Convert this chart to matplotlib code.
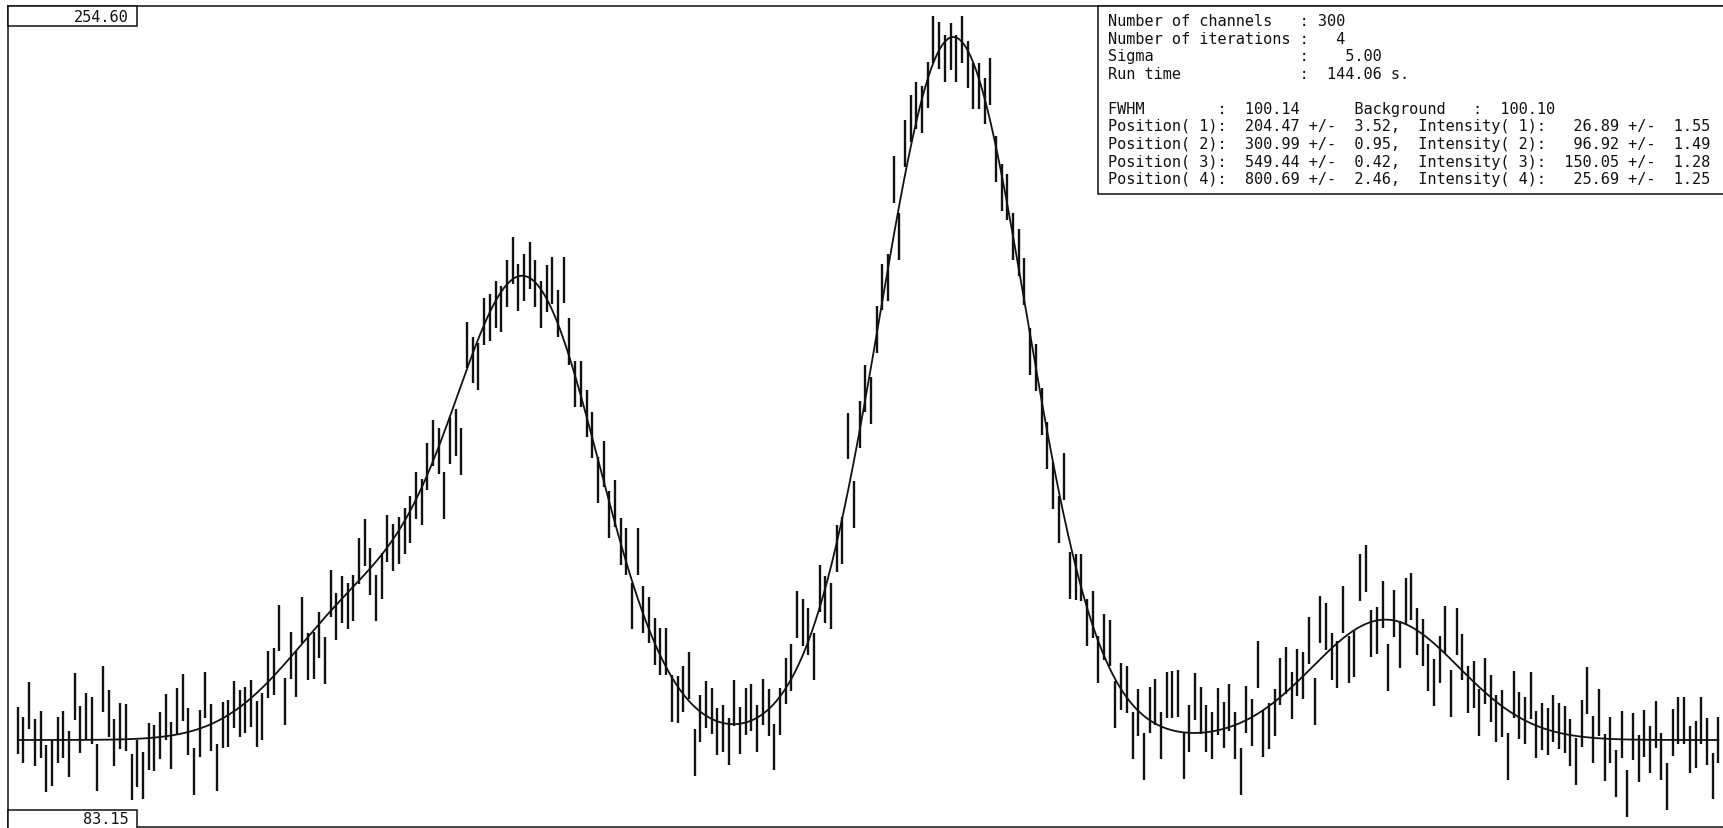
import matplotlib.pyplot as plt
import numpy as np
from matplotlib.patches import Rectangle

# fit results, as reported by the fitting run
n_channels = 300
n_iterations = 4
sigma = 5.00
run_time = 144.06
fwhm = 100.14
background = 100.10
peak_positions = [204.47, 300.99, 549.44, 800.69]
peak_position_errors = [3.52, 0.95, 0.42, 2.46]
peak_intensities = [26.89, 96.92, 150.05, 25.69]
peak_intensity_errors = [1.55, 1.49, 1.28, 1.25]

# measured spectrum, one value per channel
counts = [
    102.1, 100.1, 107.4, 99.5, 101.2, 94.1, 95.2, 100.1, 101.2, 97.1,
    109.3, 102.4, 105.2, 104.2, 94.3, 111.0, 105.7, 99.5, 103.1, 102.7,
    92.2, 95.0, 92.6, 98.8, 98.4, 101.0, 105.0, 99.0, 106.1, 109.1,
    102.0, 93.3, 101.4, 109.7, 102.7, 94.3, 103.3, 103.7, 107.6, 105.7,
    106.5, 107.8, 103.5, 105.2, 114.0, 114.8, 124.0, 108.4, 118.2, 114.2,
    125.7, 118.0, 118.2, 122.5, 117.0, 131.3, 126.4, 130.0, 128.7, 130.4,
    138.3, 142.2, 136.0, 130.4, 135.1, 143.1, 141.1, 142.6, 144.7, 147.1,
    152.2, 150.9, 158.4, 163.5, 161.8, 152.2, 164.1, 165.8, 161.6, 184.4,
    181.2, 179.9, 189.4, 190.2, 193.0, 192.1, 197.6, 202.4, 196.6, 198.9,
    201.3, 197.6, 193.0, 196.4, 198.1, 191.2, 198.3, 185.1, 176.1, 176.1,
    169.7, 165.2, 155.6, 159.0, 148.3, 150.5, 142.4, 140.3, 128.7, 140.3,
    127.9, 125.7, 121.1, 118.9, 118.9, 108.9, 108.7, 111.0, 113.8, 97.4,
    104.7, 107.6, 106.3, 102.0, 102.5, 99.8, 108.0, 102.2, 106.1, 107.0,
    102.5, 108.2, 105.9, 98.6, 106.1, 112.7, 115.5, 126.8, 125.1, 123.2,
    118.0, 132.5, 130.0, 128.7, 140.9, 142.7, 165.0, 150.3, 167.5, 175.2,
    172.5, 187.8, 196.8, 198.9, 219.8, 207.5, 227.5, 232.7, 235.6, 234.6,
    239.9, 249.7, 248.4, 245.5, 248.1, 245.5, 249.6, 244.2, 239.7, 239.7,
    236.5, 240.7, 224.1, 218.1, 216.0, 207.5, 204.1, 197.9, 183.1, 179.6,
    170.2, 162.9, 154.4, 147.1, 156.3, 135.3, 134.9, 134.7, 125.1, 126.8,
    117.2, 122.1, 120.8, 107.7, 111.5, 110.8, 101.0, 105.9, 96.5, 106.5,
    108.2, 101.0, 109.7, 109.9, 110.1, 96.8, 102.5, 109.3, 106.4, 102.5,
    101.0, 106.1, 103.3, 107.1, 101.0, 93.3, 106.7, 103.9, 116.3, 101.4,
    103.1, 105.9, 112.5, 115.0, 109.6, 114.5, 113.8, 121.3, 108.4, 125.8,
    124.4, 118.0, 116.3, 128.0, 117.3, 118.5, 134.8, 136.7, 122.9, 123.4,
    129.0, 115.6, 127.1, 120.4, 129.6, 130.8, 123.2, 121.0, 115.6, 112.3,
    117.3, 123.6, 110.1, 123.3, 117.8, 110.8, 112.0, 106.0, 112.7, 108.9,
    104.6, 105.8, 96.5, 109.8, 105.3, 104.2, 109.6, 101.3, 103.0, 102.0,
    104.7, 103.1, 102.3, 99.5, 95.6, 103.7, 110.6, 100.2, 105.9, 96.3,
    100.1, 92.9, 101.2, 88.6, 100.8, 96.1, 101.4, 98.1, 103.4, 96.6,
    90.1, 101.7, 104.2, 104.2, 98.1, 99.2, 104.2, 99.7, 92.4, 100.1,
]

# channel centres along the energy axis
channel_first, channel_last = 5.5, 994.2

# range labels printed in the corner boxes
y_top_label = "254.60"
y_bottom_label = "83.15"

W, H = 1724, 829
INK = "#111111"
MONO = "DejaVu Sans Mono"


def fitted_spectrum(x: np.ndarray) -> np.ndarray:
    """Background plus one gaussian per peak, all sharing the same FWHM."""
    s = fwhm / (2 * np.sqrt(2 * np.log(2)))
    y = np.full_like(x, background, dtype=float)
    for pos, height in zip(peak_positions, peak_intensities):
        y += height * np.exp(-0.5 * ((x - pos) / s) ** 2)
    return y


def px_box(fig, x0, y0, x1, y1, **kw):
    """Rectangle given in pixel coords measured from the top-left corner."""
    rect = Rectangle((x0 / W, 1 - y1 / H), (x1 - x0) / W, (y1 - y0) / H,
                     transform=fig.transFigure, fill=True, facecolor="white",
                     edgecolor=INK, linewidth=1.1, zorder=5, **kw)
    fig.patches.append(rect)


def summary_lines() -> list:
    lines = [
        f"Number of channels   : {n_channels}",
        f"Number of iterations : {n_iterations:3d}",
        f"Sigma                : {sigma:7.2f}",
        f"Run time             : {run_time:7.2f} s.",
        "",
        f"FWHM        : {fwhm:7.2f}      Background   : {background:7.2f}",
    ]
    for i, (pos, perr, inten, ierr) in enumerate(
            zip(peak_positions, peak_position_errors, peak_intensities, peak_intensity_errors), start=1):
        lines.append(f"Position({i:2d}): {pos:7.2f} +/- {perr:5.2f},  "
                     f"Intensity({i:2d}): {inten:7.2f} +/- {ierr:5.2f}")
    return lines


fig = plt.figure(figsize=(W / 100, H / 100), dpi=100)
fig.patch.set_facecolor("white")

# plot frame: left edge at x=8px, top at 7px, bottom at 828px, right runs off the page
frame_l, frame_r, frame_t, frame_b = 8, 1730, 7, 828
ax = fig.add_axes([frame_l / W, 1 - frame_b / H, (frame_r - frame_l) / W, (frame_b - frame_t) / H])
ax.set_xlim(-0.2, 1001.0)
ax.set_ylim(81.53, 256.77)
ax.set_xticks([])
ax.set_yticks([])
for side in ("left", "top", "bottom"):
    ax.spines[side].set_color(INK)
    ax.spines[side].set_linewidth(1.1)
ax.spines["right"].set_visible(False)

y = np.asarray(counts)
x = np.linspace(channel_first, channel_last, len(y))

# measured points drawn as +/- sigma bars, fit on top
ax.vlines(x, y - sigma, y + sigma, colors=INK, linewidth=1.7)
xf = np.linspace(channel_first, channel_last, 1200)
ax.plot(xf, fitted_spectrum(xf), color=INK, linewidth=1.3)

# corner labels with the vertical range
px_box(fig, frame_l, frame_t, 137, 27)
fig.text(129 / W, 1 - 17.5 / H, y_top_label, ha="right", va="center",
         family=MONO, fontsize=11, color=INK, zorder=6)
px_box(fig, frame_l, 811, 137, 835)
fig.text(129 / W, 1 - 820 / H, y_bottom_label, ha="right", va="center",
         family=MONO, fontsize=11, color=INK, zorder=6)

# fit summary box in the upper right
px_box(fig, 1098, frame_t, 1735, 195)
for i, line in enumerate(summary_lines()):
    fig.text(1108 / W, 1 - (22 + 17.5 * i) / H, line, ha="left", va="center",
             family=MONO, fontsize=11, color=INK, zorder=6)

fig.savefig("out.png", dpi=100, facecolor="white")
